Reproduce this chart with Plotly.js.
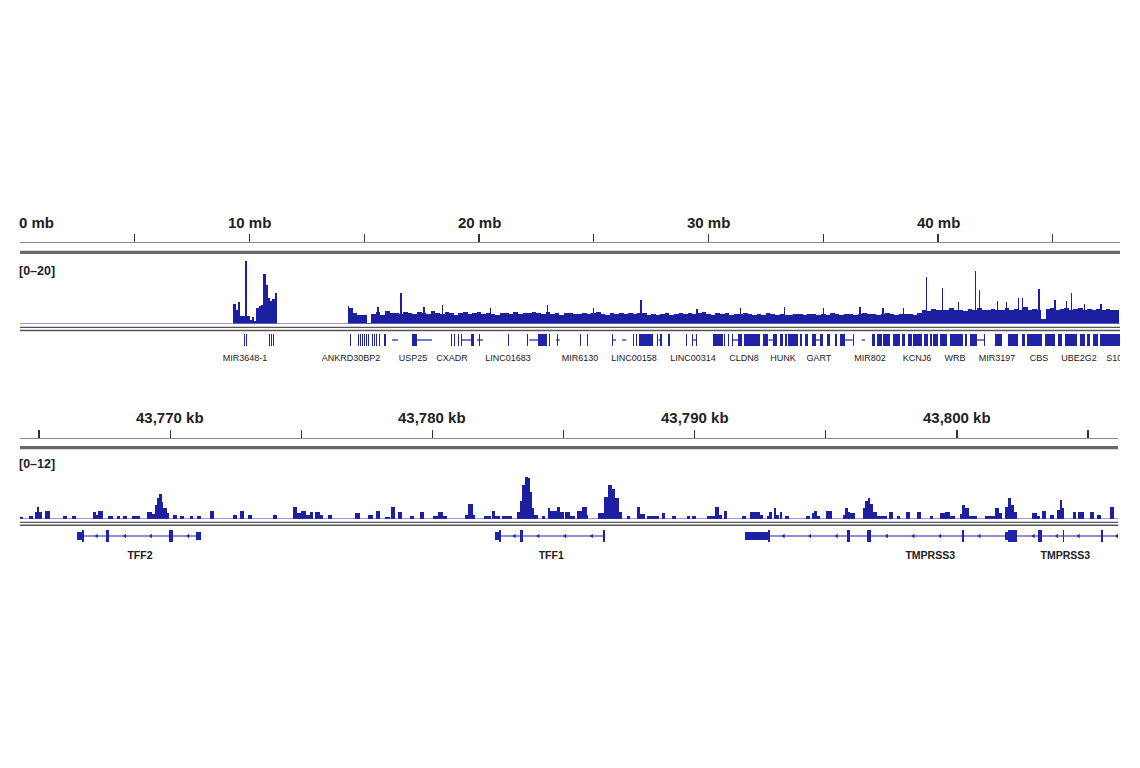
<!DOCTYPE html>
<html><head><meta charset="utf-8">
<script src="https://cdn.plot.ly/plotly-3.0.1.min.js"></script>
<style>html,body{margin:0;padding:0;background:#fff}#chart{width:1140px;height:768px}</style>
</head><body><div id="chart"></div>
<script>
// ================= DATA =================
// ---- top panel: whole chromosome (mb) ----
const topRulerTicks = [0, 5, 10, 15, 20, 25, 30, 35, 40, 45];
const topRulerLabelPos = [0, 10, 20, 30, 40];
const topRulerLabels = ['0 mb', '10 mb', '20 mb', '30 mb', '40 mb'];
const topRangeLabel = '[0\u201320]';
const topRange = [0, 20];

// coverage, cluster near 10 mb, 0.1 mb bins starting at 9.3 mb
const topCovAFirst = 9.3, topCovAStep = 0.1;
const topCovA = [6.5, 4.5, 7.0, 2.5, 2.5, 20, 2.5, 1.2, 2.2, 1.0, 5.0, 5.8, 6.0, 16.0, 12.5, 8.4, 7.2, 8.0, 10.0];

// coverage, main region, 0.2 mb bins starting at 14.3 mb
const topCovBFirst = 14.3, topCovBStep = 0.2;
const topCovB = [
  5.2, 3.4, 3.0, 2.8, 0.2, 3.2, 3.8, 3.0, 4.2, 3.5,
  3.6, 3.3, 3.9, 3.4, 3.1, 3.8, 3.6, 3.2, 4.0, 3.4,
  3.3, 3.9, 3.6, 3.0, 3.5, 3.8, 3.2, 3.4, 3.7, 3.1,
  3.5, 3.3, 3.0, 3.6, 3.4, 3.2, 3.9, 3.3, 3.6, 3.5,
  3.8, 3.4, 3.3, 3.7, 3.1, 3.5, 3.0, 3.4, 3.6, 3.2,
  3.3, 3.5, 3.1, 3.4, 3.8, 3.2, 3.0, 3.6, 3.3, 3.4,
  3.1, 3.5, 3.2, 3.4, 3.6, 3.0, 3.3, 2.9, 3.2, 3.4,
  3.0, 3.3, 3.6, 3.2, 3.5, 3.1, 3.4, 3.7, 3.3, 3.0,
  3.4, 3.2, 3.6, 3.0, 3.3, 3.1, 3.5, 3.2, 2.9, 3.3,
  3.0, 3.4, 3.1, 2.8, 3.2, 3.0, 2.9, 3.3, 3.1, 3.0,
  3.3, 3.1, 2.9, 3.2, 3.0, 3.4, 3.1, 3.0, 3.3, 3.1,
  3.0, 3.2, 3.6, 3.1, 3.3, 3.0, 3.2, 3.4, 3.1, 3.0,
  3.2, 3.1, 3.3, 3.0, 3.6, 4.6, 4.2, 4.8, 4.4, 4.5,
  4.3, 5.0, 4.4, 4.6, 4.2, 4.9, 4.5, 5.2, 4.6, 4.4,
  4.8, 4.3, 4.6, 5.0, 4.4, 4.7, 4.5, 5.3, 4.6, 4.8,
  4.5, 1.5, 4.9, 5.1, 4.6, 4.8, 5.2, 4.4, 4.7, 5.0,
  4.6, 4.9, 4.5, 4.8, 4.3, 4.7, 4.5, 4.4
];

// narrow spikes (mb, value)
const topSpikePos = [14.3, 15.6, 16.6, 17.6, 18.4, 20.5, 23.0, 25.0, 27.06, 29.5, 31.4, 33.3, 35.0, 36.6, 37.6, 38.5,
  39.5, 40.2, 40.9, 41.65, 41.8, 42.6, 43.0, 43.5, 43.7, 44.4, 45.1, 45.6, 45.8, 46.4, 47.1];
const topSpikeVal = [5.6, 5.5, 9.8, 5.5, 6.0, 5.0, 6.0, 5.0, 7.5, 4.8, 5.0, 5.5, 5.0, 5.5, 5.2, 5.0,
  15.0, 11.5, 7.0, 16.8, 10.8, 7.3, 7.0, 8.4, 8.4, 11.0, 7.5, 7.3, 9.9, 6.5, 6.5];

// gene features (mb)
const topGeneBlocks = [
  [9.78,9.82],[9.86,9.90],[10.86,10.90],[10.94,10.98],[11.03,11.07],
  [14.37,14.41],[14.72,14.76],[14.83,14.87],[14.92,14.96],[15.00,15.04],[15.07,15.11],[15.15,15.19],[15.23,15.27],
  [15.32,15.36],[15.44,15.48],[15.53,15.57],[15.66,15.70],[15.84,15.95],[16.32,16.36],
  [17.08,17.30],
  [18.78,18.83],[18.90,18.95],[19.08,19.12],[19.20,19.26],[19.65,19.78],[20.02,20.06],
  [21.25,21.29],[22.08,22.12],[22.16,22.20],[22.57,22.96],[23.07,23.11],[23.42,23.46],
  [24.42,24.46],[24.69,24.73],
  [25.60,25.64],[25.79,25.83],[26.21,26.25],[26.73,26.77],[26.86,26.90],[26.97,27.58],[27.76,27.82],[27.90,27.97],[28.22,28.26],[28.30,28.34],
  [29.04,29.08],[29.27,29.31],[29.47,29.51],[29.87,29.91],
  [30.20,30.63],[30.67,30.72],[30.84,30.88],[31.02,31.06],[31.30,31.45],[31.55,32.24],[32.37,32.61],[32.81,32.98],
  [33.12,33.26],[33.33,33.41],[33.45,33.91],[33.99,34.09],[34.20,34.35],[34.50,34.68],[34.85,35.00],[35.15,35.29],
  [35.51,35.59],[35.73,35.95],[36.28,36.32],
  [37.11,37.25],[37.33,37.55],[37.62,37.91],[38.05,38.34],[38.42,38.56],[38.71,38.85],[38.92,39.29],[39.40,39.58],
  [39.65,39.72],[39.80,40.01],[40.09,40.38],[40.52,41.10],[41.18,41.25],[41.39,41.69],[42.02,42.06],[42.48,42.77],
  [43.06,43.50],[43.65,43.79],[43.86,44.52],[44.66,45.10],[45.24,45.39],[45.53,46.04],[46.19,46.41],[46.48,46.62],
  [46.77,46.99],[47.06,47.93]
];
const topGeneLinks = [
  [16.21,16.47],[17.30,17.95],[19.26,19.65],[19.91,20.17],[22.19,22.57],[23.35,23.52],[25.82,25.97],[26.24,26.42],
  [27.82,27.90],[29.31,29.47],[31.06,31.30],[32.61,32.81],[34.68,34.85],[35.95,36.28],[36.68,36.82],[41.69,42.02]
];
const topGeneNames = ['MIR3648-1','ANKRD30BP2','USP25','CXADR','LINC01683','MIR6130','LINC00158','LINC00314','CLDN8',
  'HUNK','GART','MIR802','KCNJ6','WRB','MIR3197','CBS','UBE2G2','S100B'];
const topGeneNamePos = [9.80, 14.42, 17.12, 18.82, 21.26, 24.40, 26.75, 29.32, 31.55,
  33.25, 34.81, 37.04, 39.08, 40.74, 42.57, 44.40, 46.14, 47.92];

// ---- bottom panel: zoomed locus (kb) ----
const botRulerTicks = [43765, 43770, 43775, 43780, 43785, 43790, 43795, 43800, 43805];
const botRulerLabelPos = [43770, 43780, 43790, 43800];
const botRulerLabels = ['43,770 kb', '43,780 kb', '43,790 kb', '43,800 kb'];
const botRangeLabel = '[0\u201312]';
const botRange = [0, 12];

const botCovStart = [43764.28,43764.63,43764.85,43764.94,43765.01,43765.23,43765.90,43766.25,43767.05,43767.17,43767.26,
  43767.64,43767.96,43768.22,43768.53,43769.13,43769.30,43769.42,43769.51,43769.59,43769.67,43769.74,43769.87,
  43770.10,43770.38,43770.76,43771.01,43771.52,43772.41,43772.67,43772.97,43773.94,43774.67,43774.83,43774.98,
  43775.18,43775.34,43775.53,43775.72,43776.00,43777.05,43777.56,43777.85,
  43778.20,43778.42,43778.68,43779.15,43779.51,43780.04,43780.23,43780.42,43781.25,43781.35,43781.53,43781.98,
  43782.26,43782.39,43782.65,43783.22,43783.34,43783.43,43783.54,43783.64,43783.73,43783.79,43783.88,43784.17,
  43784.40,43784.49,43784.74,43784.87,43785.06,43785.25,43785.51,43785.70,43785.89,43786.33,43786.55,43786.69,
  43786.84,43786.97,43787.10,43787.41,43787.79,43787.92,43788.18,43788.75,43789.13,43789.70,43789.89,43790.46,
  43790.78,43790.91,43791.10,43791.80,
  43792.12,43792.50,43792.75,43792.85,43793.01,43793.11,43793.24,43793.45,43794.25,43794.47,43794.56,43794.66,
  43795.01,43795.65,43795.74,43795.83,43795.93,43796.41,43796.50,43796.59,43796.69,43796.79,43796.95,43797.39,
  43797.71,43798.07,43798.47,43798.96,43799.36,43799.55,43799.74,43800.13,43800.19,43800.32,43800.44,43801.08,
  43801.46,43801.59,43801.84,43801.93,43802.06,43802.18,43802.86,43803.05,43803.24,43803.56,43803.81,43803.91,
  43804.01,43804.42,43804.60,43805.06,43805.34,43805.82];
const botCovEnd = [43764.38,43764.78,43764.94,43765.01,43765.10,43765.42,43766.06,43766.41,43767.17,43767.26,43767.43,
  43767.81,43768.09,43768.37,43768.85,43769.30,43769.42,43769.51,43769.59,43769.67,43769.74,43769.87,43769.96,
  43770.25,43770.53,43770.89,43771.17,43771.67,43772.56,43772.82,43773.11,43774.09,43774.83,43774.98,43775.18,
  43775.34,43775.46,43775.72,43775.84,43776.16,43777.22,43777.73,43778.01,
  43778.39,43778.58,43778.83,43779.31,43779.66,43780.23,43780.42,43780.55,43781.35,43781.53,43781.63,43782.24,
  43782.37,43782.58,43783.03,43783.34,43783.43,43783.54,43783.64,43783.73,43783.79,43783.88,43784.04,43784.30,
  43784.49,43784.74,43784.87,43785.00,43785.25,43785.44,43785.70,43785.89,43785.95,43786.55,43786.69,43786.84,
  43786.97,43787.10,43787.22,43787.54,43787.92,43788.11,43788.62,43788.85,43789.28,43789.83,43790.04,43790.78,
  43790.91,43791.04,43791.23,43791.95,
  43792.50,43792.62,43792.85,43792.94,43793.11,43793.20,43793.32,43793.58,43794.40,43794.56,43794.66,43794.79,
  43795.23,43795.74,43795.83,43795.93,43796.12,43796.50,43796.59,43796.69,43796.79,43796.95,43797.33,43797.56,
  43797.84,43798.22,43798.62,43799.08,43799.55,43799.74,43799.93,43800.19,43800.32,43800.44,43800.76,43801.46,
  43801.59,43801.71,43801.93,43802.06,43802.18,43802.29,43803.05,43803.18,43803.41,43803.71,43803.91,43804.01,
  43804.09,43804.55,43804.83,43805.21,43805.49,43805.97];
const botCovVal = [0.45,0.65,1.4,2.4,1.4,1.5,0.65,0.65,1.4,0.8,1.5,
  0.65,0.65,0.65,0.65,1.4,0.9,2.8,4.0,4.8,3.2,2.1,1.1,
  0.8,0.65,0.65,0.65,1.5,0.8,1.5,0.8,0.8,2.4,1.1,1.5,
  0.8,1.4,1.4,0.8,0.8,1.1,0.8,1.5,
  0.3,2.3,1.4,0.65,1.4,0.65,1.4,0.65,0.8,3.0,0.8,0.65,
  1.5,0.65,0.65,1.4,3.4,6.6,8.2,7.9,5.3,2.1,0.8,0.65,
  2.2,1.5,2.4,1.4,1.4,0.65,1.5,2.4,0.8,1.1,4.3,6.5,
  5.9,4.0,1.4,0.65,2.4,0.9,0.65,1.1,0.65,0.65,0.65,0.65,
  2.4,0.8,1.5,0.65,
  1.4,0.8,0.65,1.4,2.2,0.8,1.4,0.65,0.65,1.1,1.5,0.65,
  1.5,0.8,2.2,1.4,1.1,2.1,3.4,4.0,3.0,1.4,0.65,1.4,
  0.65,1.4,1.4,0.65,1.1,1.4,0.65,0.9,2.8,2.1,0.65,0.65,
  2.2,1.1,2.4,4.0,2.8,1.4,1.1,0.65,1.5,0.8,1.7,3.7,
  2.1,1.4,1.4,1.4,0.8,2.4];

// gene models (kb)
const botGeneSpans = [[43766.44, 43771.18], [43782.39, 43786.58], [43791.93, 43806.30]];
const botUtrs = [[43766.44, 43766.64], [43770.98, 43771.18], [43782.39, 43782.54], [43791.93, 43792.80], [43801.83, 43801.96]];
const botExons = [[43766.64, 43766.70], [43767.55, 43767.67], [43769.96, 43770.10],
  [43782.54, 43782.60], [43783.35, 43783.47], [43786.52, 43786.58],
  [43792.80, 43792.88], [43795.80, 43795.93], [43796.58, 43796.72], [43800.21, 43800.27], [43801.96, 43802.29],
  [43803.10, 43803.24], [43804.03, 43804.08], [43805.50, 43805.56]];
const botStrandMarks = [43767.20, 43768.28, 43769.27, 43770.69, 43783.13, 43784.04, 43785.06, 43786.08,
  43793.39, 43794.40, 43795.42, 43797.33, 43798.34, 43799.36, 43800.86, 43802.92, 43803.81, 43804.64, 43806.10];
const botGeneNames = ['TFF2', 'TFF1', 'TMPRSS3', 'TMPRSS3'];
const botGeneNamePos = [43768.85, 43784.53, 43798.98, 43804.13];

// ================= RENDER =================
const W = 1140, H = 768;
const py = p => (H - p) / H;
const pxX = p => p / W;
const COV = '#1c1fa0', GENE = '#1f23a6';
const SANS = "'Liberation Sans', Arial, sans-serif";

const topXRange = [0, 47.93];
const botXRange = [43764.275, 43806.14];

function binCenters(first, step, n) { const a = []; for (let i = 0; i < n; i++) a.push(first + (i + 0.5) * step); return a; }
function lineXY(pairs) { const x = [], y = []; pairs.forEach(p => { x.push(p[0], p[1], null); y.push(0, 0, null); }); return {x, y}; }

const traces = [];
// invisible anchors so the ruler subplots exist
traces.push({type:'scatter', mode:'markers', x:[topXRange[0]], y:[0], marker:{opacity:0, size:1}, xaxis:'x', yaxis:'y4', hoverinfo:'skip'});
traces.push({type:'scatter', mode:'markers', x:[botXRange[0]], y:[0], marker:{opacity:0, size:1}, xaxis:'x2', yaxis:'y5', hoverinfo:'skip'});
// top coverage
traces.push({type:'bar', x: binCenters(topCovAFirst, topCovAStep, topCovA.length), y: topCovA, width: topCovAStep,
  marker:{color:COV, line:{width:0}}, xaxis:'x', yaxis:'y', hoverinfo:'skip'});
traces.push({type:'bar', x: binCenters(topCovBFirst, topCovBStep, topCovB.length), y: topCovB, width: topCovBStep,
  marker:{color:COV, line:{width:0}}, xaxis:'x', yaxis:'y', hoverinfo:'skip'});
traces.push({type:'bar', x: topSpikePos, y: topSpikeVal, width: 0.05,
  marker:{color:COV, line:{width:0}}, xaxis:'x', yaxis:'y', hoverinfo:'skip'});
// top genes
const tl = lineXY(topGeneLinks);
traces.push({type:'scatter', mode:'lines', x: tl.x, y: tl.y, line:{color:GENE, width:1.2}, xaxis:'x', yaxis:'y2', hoverinfo:'skip'});
traces.push({type:'bar', orientation:'h', base: topGeneBlocks.map(b => b[0]), x: topGeneBlocks.map(b => b[1] - b[0]),
  y: topGeneBlocks.map(() => 0), width: 1, marker:{color:GENE, line:{width:0}}, xaxis:'x', yaxis:'y2', hoverinfo:'skip'});
traces.push({type:'scatter', mode:'text', x: topGeneNamePos, y: topGeneNames.map(() => 0.5), text: topGeneNames,
  textfont:{family:SANS, size:9, color:'#222'}, cliponaxis:true,
  xaxis:'x', yaxis:'y3', hoverinfo:'skip'});

// bottom coverage
traces.push({type:'bar', x: botCovStart.map((s, i) => (s + botCovEnd[i]) / 2), y: botCovVal,
  width: botCovStart.map((s, i) => botCovEnd[i] - s), marker:{color:COV, line:{width:0}},
  xaxis:'x2', yaxis:'y6', hoverinfo:'skip'});
// bottom genes
const bl = lineXY(botGeneSpans);
traces.push({type:'scatter', mode:'lines', x: bl.x, y: bl.y, line:{color:GENE, width:1.2}, xaxis:'x2', yaxis:'y7', hoverinfo:'skip', cliponaxis:true});
traces.push({type:'scatter', mode:'markers', x: botStrandMarks, y: botStrandMarks.map(() => 0),
  marker:{symbol:'triangle-left', size:4, color:GENE}, xaxis:'x2', yaxis:'y7', hoverinfo:'skip', cliponaxis:true});
traces.push({type:'bar', orientation:'h', base: botUtrs.map(b => b[0]), x: botUtrs.map(b => b[1] - b[0]),
  y: botUtrs.map(() => 0), width: 0.66, marker:{color:GENE, line:{width:0}}, xaxis:'x2', yaxis:'y7', hoverinfo:'skip'});
traces.push({type:'bar', orientation:'h', base: botExons.map(b => b[0]), x: botExons.map(b => b[1] - b[0]),
  y: botExons.map(() => 0), width: 1, marker:{color:GENE, line:{width:0}}, xaxis:'x2', yaxis:'y7', hoverinfo:'skip'});
traces.push({type:'scatter', mode:'text', x: botGeneNamePos, y: botGeneNames.map(() => 0.5), text: botGeneNames,
  textfont:{family:SANS, size:10.5, color:'#222', weight:700}, cliponaxis:true,
  xaxis:'x2', yaxis:'y8', hoverinfo:'skip'});

const hiddenY = (dom, rng) => ({domain: dom, range: rng, showline:false, showticklabels:false, ticks:'',
  fixedrange:true, showgrid:false, zeroline:false});
const rulerX = (dom, rng, anchor, ticks) => ({domain: dom, range: rng, anchor: anchor, side:'bottom',
  showline:true, linecolor:'#8a8a8a', linewidth:1.4, ticks:'inside', ticklen:8, tickwidth:1.2, tickcolor:'#333',
  tickmode:'array', tickvals: ticks, showticklabels:false, showgrid:false, zeroline:false, fixedrange:true});

const layout = {
  width: W, height: H, margin:{l:0, r:0, t:0, b:0}, paper_bgcolor:'#fff', plot_bgcolor:'rgba(0,0,0,0)',
  showlegend:false, barmode:'overlay', bargap:0,
  xaxis: rulerX([pxX(20), pxX(1120)], topXRange, 'y4', topRulerTicks),
  xaxis2: rulerX([pxX(20), pxX(1118)], botXRange, 'y5', botRulerTicks),
  yaxis: hiddenY([py(324), py(261)], topRange),
  yaxis2: hiddenY([py(346), py(334)], [-0.5, 0.5]),
  yaxis3: hiddenY([py(366), py(352)], [0, 1]),
  yaxis4: hiddenY([py(242), py(234)], [0, 1]),
  yaxis5: hiddenY([py(437.7), py(429.7)], [0, 1]),
  yaxis6: hiddenY([py(519), py(457)], botRange),
  yaxis7: hiddenY([py(542), py(530)], [-0.5, 0.5]),
  yaxis8: hiddenY([py(563), py(549)], [0, 1]),
  shapes: [
    {type:'line', xref:'paper', yref:'paper', x0:pxX(20), x1:pxX(1120), y0:py(252.3), y1:py(252.3), line:{color:'#676767', width:3.3}},
    {type:'line', xref:'x', yref:'y', x0:topXRange[0], x1:topXRange[1], y0:0, y1:0, line:{color:'#6f74c6', width:1.5}},
    {type:'line', xref:'paper', yref:'paper', x0:pxX(20), x1:pxX(1120), y0:py(327.3), y1:py(327.3), line:{color:'#555', width:1.3}},
    {type:'line', xref:'paper', yref:'paper', x0:pxX(20), x1:pxX(1120), y0:py(330.5), y1:py(330.5), line:{color:'#555', width:1.6}},
    {type:'line', xref:'paper', yref:'paper', x0:pxX(20), x1:pxX(1118), y0:py(447.7), y1:py(447.7), line:{color:'#676767', width:3.3}},
    {type:'line', xref:'x2', yref:'y6', x0:botXRange[0], x1:botXRange[1], y0:0, y1:0, line:{color:'#3338b0', width:1}},
    {type:'line', xref:'paper', yref:'paper', x0:pxX(20), x1:pxX(1118), y0:py(522.3), y1:py(522.3), line:{color:'#555', width:1.3}},
    {type:'line', xref:'paper', yref:'paper', x0:pxX(20), x1:pxX(1118), y0:py(525.2), y1:py(525.2), line:{color:'#555', width:1.6}}
  ],
  annotations: []
};
const labelFont = {family: SANS, size: 15, color:'#222', weight:700};
topRulerLabelPos.forEach((p, i) => layout.annotations.push({xref:'x', yref:'paper', x:p, y:py(222.5),
  text: topRulerLabels[i], showarrow:false, xanchor: p === topXRange[0] ? 'left' : 'center', yanchor:'middle',
  xshift: p === topXRange[0] ? -3 : 0, font: labelFont}));
botRulerLabelPos.forEach((p, i) => layout.annotations.push({xref:'x2', yref:'paper', x:p, y:py(418),
  text: botRulerLabels[i], showarrow:false, xanchor:'center', yanchor:'middle', font: labelFont}));
layout.annotations.push({xref:'paper', yref:'paper', x:pxX(19), y:py(270.5), text: topRangeLabel, showarrow:false,
  xanchor:'left', yanchor:'middle', xshift:-2, font:{family:SANS, size:12.5, color:'#222', weight:700}});
layout.annotations.push({xref:'paper', yref:'paper', x:pxX(19), y:py(464.5), text: botRangeLabel, showarrow:false,
  xanchor:'left', yanchor:'middle', xshift:-2, font:{family:SANS, size:12.5, color:'#222', weight:700}});

Plotly.newPlot('chart', traces, layout, {staticPlot:true, displayModeBar:false});
</script>
</body></html>
